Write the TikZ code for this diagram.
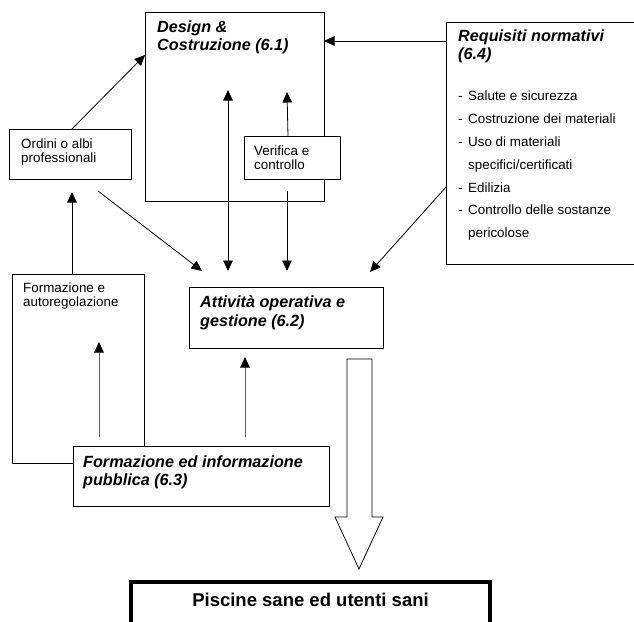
\documentclass[tikz,border=0pt]{standalone}
\usepackage{fontspec}
\setmainfont{Liberation Sans}
\usetikzlibrary{arrows.meta,calc}
\begin{document}
\begin{tikzpicture}[x=1pt,y=-1pt,
  box/.style={draw=black, line width=0.8pt, fill=white, anchor=north west, inner sep=0pt, outer sep=0pt},
  ttl/.style={anchor=base west, inner sep=0pt, font=\fontsize{16.2}{18}\selectfont\bfseries\itshape},
  txt/.style={anchor=base west, inner sep=0pt, font=\fontsize{13.4}{15}\selectfont},
  link/.style={draw=black, line width=0.8pt, -{Triangle[length=10.5pt,width=9.5pt]}},
  twoway/.style={link, {Triangle[length=10.5pt,width=9.5pt]}-{Triangle[length=10.5pt,width=9.5pt]}},
  softlink/.style={draw=gray!75!black, line width=1pt, -{Triangle[length=10.5pt,width=9.5pt,color=black]}}
]
\useasboundingbox (0,0) rectangle (634,621);

% --- boxes ---
\node[box, minimum width=179pt, minimum height=189pt] (des) at (145,12) {};
\node[box, minimum width=96pt, minimum height=43pt] (ver) at (244,136) {};
\node[box, minimum width=122pt, minimum height=50pt] (ord) at (9,129) {};
\node[box, minimum width=200pt, minimum height=242pt] (req) at (446,22) {};
\node[box, minimum width=194pt, minimum height=61pt] (att) at (189,287) {};
\node[box, minimum width=132pt, minimum height=189pt] (aut) at (12,274) {};
\node[box, minimum width=256pt, minimum height=60pt] (pub) at (73,446) {};
\node[box, line width=4pt, minimum width=359pt, minimum height=70pt] (pis) at (131,582) {};

% --- texts ---
\node[ttl] (des-a) at (157,32) {Design \&};
\node[ttl] (des-b) at (157,50) {Costruzione (6.1)};
\node[txt] (ver-a) at (254,155) {Verifica e};
\node[txt] (ver-b) at (254,169) {controllo};
\node[txt] (ord-a) at (21,148) {Ordini o albi};
\node[txt] (ord-b) at (21,162) {professionali};
\node[ttl] (req-a) at (458,41) {Requisiti normativi};
\node[ttl] (req-b) at (458,59) {(6.4)};
\foreach \t/\y [count=\i] in {Salute e sicurezza/100, Costruzione dei materiali/123,
    Uso di materiali/146, Edilizia/192, Controllo delle sostanze/214}
  {\node[txt] (req-d\i) at (458,\y) {-};
   \node[txt] (req-i\i) at (468,\y) {\t};}
\node[txt] (req-c1) at (468,169) {specifici/certificati};
\node[txt] (req-c2) at (468,237) {pericolose};
\node[ttl] (att-a) at (200,307) {Attività operativa e};
\node[ttl] (att-b) at (200,326) {gestione (6.2)};
\node[txt] (aut-a) at (23,292) {Formazione e};
\node[txt] (aut-b) at (23,306) {autoregolazione};
\node[ttl] (pub-a) at (83,467) {Formazione ed informazione};
\node[ttl] (pub-b) at (83,485) {pubblica (6.3)};
\node[anchor=base, inner sep=0pt, font=\fontsize{18.5}{20}\selectfont\bfseries] (pis-a) at (310.5,606) {Piscine sane ed utenti sani};

% --- free ends of connectors ---
\coordinate (ord-out) at (98,191);
\coordinate (att-in1) at (202,271);
\coordinate (att-in2) at (228,271);
\coordinate (des-in2) at (228,90);
\coordinate (des-in3) at (287,92);
\coordinate (ver-out) at (287,191);
\coordinate (att-in3) at (287,271);
\coordinate (req-out) at (446,187);
\coordinate (att-in4) at (370,272);
\coordinate (ord-in) at (72,192);
\coordinate (pub-out1) at (99,437);
\coordinate (aut-in) at (99,342);
\coordinate (pub-out2) at (245,437);
\coordinate (att-in5) at (245,357);

% --- connectors ---
\draw[link] (ord.north west -| 72,0) -- (des.west |- 0,55);
\draw[link] (req.north west |- 0,41) -- (des.east |- 0,41);
\draw[link] (ord-out) -- (att-in1);
\draw[twoway] (des-in2) -- (att-in2);
\draw[link] (ver.north -| 288,0) -- (des-in3);
\draw[link] (ver-out) -- (att-in3);
\draw[link] (req-out) -- (att-in4);
\draw[link] (aut.north -| 72,0) -- (ord-in);
\draw[softlink] (pub-out1) -- (aut-in);
\draw[softlink] (pub-out2) -- (att-in5);

% --- broad outcome arrow towards the final box ---
\draw[line width=0.8pt, fill=white] (347,359) -- (372,359) -- (372,517) -- (383,517)
  -- (359,569) -- (335,517) -- (347,517) -- cycle;
\end{tikzpicture}
\end{document}
